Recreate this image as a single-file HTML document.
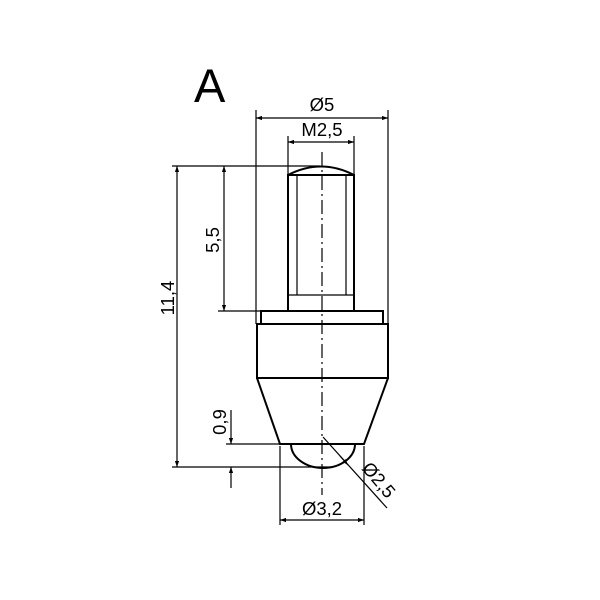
<!DOCTYPE html>
<html><head><style>html,body{margin:0;padding:0;background:#fff}svg{display:block}</style></head>
<body>
<svg width="600" height="600" viewBox="0 0 600 600" xmlns="http://www.w3.org/2000/svg" font-family="Liberation Sans, sans-serif">
<defs>
<marker id="ar" viewBox="0 0 10 10" refX="10" refY="5" markerWidth="8" markerHeight="6" orient="auto-start-reverse" markerUnits="userSpaceOnUse"><path d="M0,1.5 L10,5 L0,8.5z" fill="#000"/></marker>
</defs>
<rect width="600" height="600" fill="#fff"/>
<text x="194" y="102" font-size="47" fill="#000">A</text>
<g stroke="#000" fill="none" stroke-width="2">
<rect x="288" y="175" width="66" height="136"/>
<path d="M288,175 Q321,158 354,175"/>
<rect x="261" y="311" width="122" height="13"/>
<rect x="257" y="324" width="131" height="54"/>
<path d="M257,378 L280,444 L364,444 L388,378"/>
<path d="M291,444 A32,24 0 0 0 355,444"/>
</g>
<g stroke="#000" fill="none" stroke-width="1.2">
<line x1="297" y1="176" x2="297" y2="295"/>
<line x1="346" y1="176" x2="346" y2="295"/>
<line x1="288" y1="295" x2="354" y2="295"/>
<line x1="322" y1="152" x2="322" y2="495" stroke-dasharray="14,4,2,4"/>
<line x1="256" y1="110" x2="256" y2="324"/>
<line x1="388" y1="110" x2="388" y2="324"/>
<line x1="288" y1="136" x2="288" y2="175"/>
<line x1="354" y1="136" x2="354" y2="175"/>
<line x1="172" y1="166" x2="320" y2="166"/>
<line x1="218" y1="311" x2="288" y2="311"/>
<line x1="172" y1="467" x2="332" y2="467"/>
<line x1="226" y1="444" x2="280" y2="444"/>
<line x1="280" y1="446" x2="280" y2="525"/>
<line x1="364" y1="446" x2="364" y2="525"/>
<line x1="256" y1="118" x2="388" y2="118" marker-start="url(#ar)" marker-end="url(#ar)"/>
<line x1="288" y1="142" x2="354" y2="142" marker-start="url(#ar)" marker-end="url(#ar)"/>
<line x1="224" y1="166" x2="224" y2="311" marker-start="url(#ar)" marker-end="url(#ar)"/>
<line x1="177" y1="166" x2="177" y2="467" marker-start="url(#ar)" marker-end="url(#ar)"/>
<line x1="231" y1="410" x2="231" y2="444" marker-end="url(#ar)"/>
<line x1="231" y1="488" x2="231" y2="467" marker-end="url(#ar)"/>
<line x1="280" y1="520" x2="364" y2="520" marker-start="url(#ar)" marker-end="url(#ar)"/>
<line x1="323" y1="437" x2="387" y2="508"/>
<line x1="340" y1="456" x2="348" y2="465" marker-end="url(#ar)"/>
</g>
<g fill="#000" font-size="18.5">
<text x="322" y="111" text-anchor="middle">Ø5</text>
<text x="322" y="136" text-anchor="middle">M2,5</text>
<text x="322" y="515" text-anchor="middle">Ø3,2</text>
<text transform="translate(219,240) rotate(-90)" text-anchor="middle">5,5</text>
<text transform="translate(174,298) rotate(-90)" text-anchor="middle">11,4</text>
<text transform="translate(226,422) rotate(-90)" text-anchor="middle">0,9</text>
<text transform="translate(374,484) rotate(50)" text-anchor="middle">Ø2,5</text>
</g>
</svg>
</body></html>
